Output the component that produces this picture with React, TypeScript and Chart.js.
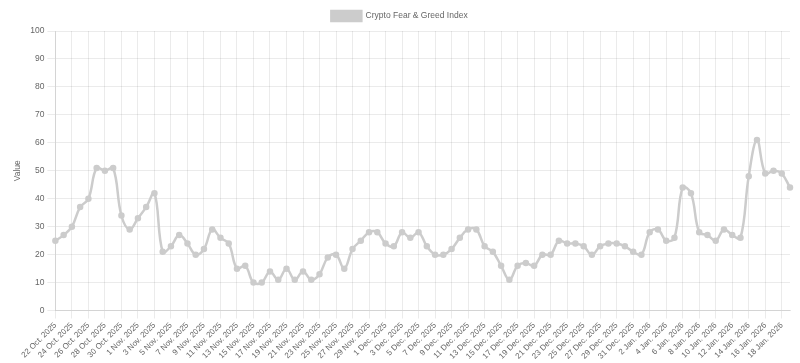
import React, { useEffect, useRef } from "react";
import { Chart, registerables } from "chart.js";

Chart.register(...registerables);

const octDays = [22, 23, 24, 25, 26, 27, 28, 29, 30, 31];
const octValues = [25, 27, 30, 37, 40, 51, 50, 51, 34, 29];
const novValues = [33, 37, 42, 21, 23, 27, 24, 20, 22, 29, 26, 24, 15, 16, 10, 10, 14, 11, 15, 11, 14, 11, 13, 19, 20, 15, 22, 25, 28, 28];
const decValues = [24, 23, 28, 26, 28, 23, 20, 20, 22, 26, 29, 29, 23, 21, 16, 11, 16, 17, 16, 20, 20, 25, 24, 24, 23, 20, 23, 24, 24, 23, 21];
const janValues = [20, 28, 29, 25, 26, 44, 42, 28, 27, 25, 29, 27, 26, 48, 61, 49, 50, 49, 44];

const labels: string[] = [
  ...octDays.map((d) => `${d} Oct. 2025`),
  ...novValues.map((_, i) => `${i + 1} Nov. 2025`),
  ...decValues.map((_, i) => `${i + 1} Dec. 2025`),
  ...janValues.map((_, i) => `${i + 1} Jan. 2026`),
];
const values: number[] = [...octValues, ...novValues, ...decValues, ...janValues];

const lineColor = "rgb(204, 204, 204)";
const fontSize = 8.5;

export default function App() {
  const ref = useRef<HTMLCanvasElement | null>(null);
  useEffect(() => {
    document.body.style.margin = "0";
    if (!ref.current) return;
    Chart.defaults.font.size = fontSize;
    const chart = new Chart(ref.current, {
      type: "line",
      data: {
        labels,
        datasets: [
          {
            label: "Crypto Fear & Greed Index",
            data: values,
            borderColor: lineColor,
            backgroundColor: lineColor,
            borderWidth: 2.5,
            pointRadius: 2,
            pointBackgroundColor: lineColor,
            pointBorderColor: lineColor,
            tension: 0.4,
            fill: false,
          },
        ],
      },
      options: {
        animation: false,
        responsive: false,
        layout: { padding: { left: 9, right: 10, top: 1, bottom: 0 } },
        plugins: {
          legend: {
            labels: { boxWidth: 30, boxHeight: 10, color: "#666", font: { size: fontSize } },
          },
          tooltip: { enabled: false },
        },
        scales: {
          x: {
            ticks: {
              color: "#666",
              maxRotation: 45,
              minRotation: 45,
              autoSkip: false,
              padding: 2,
              font: { size: 8 },
              callback: (_v: any, i: number) => (i % 2 === 0 ? labels[i] : null),
            },
            grid: { color: "rgba(0,0,0,0.08)" },
          },
          y: {
            min: 0,
            max: 100,
            ticks: { stepSize: 10, color: "#666", font: { size: fontSize } },
            grid: { color: "rgba(0,0,0,0.08)" },
            title: { display: true, text: "Value", color: "#666", font: { size: fontSize } },
          },
        },
      },
    });
    return () => chart.destroy();
  }, []);
  return (
    <div style={{ width: 800, height: 363 }}>
      <canvas ref={ref} width={800} height={363} />
    </div>
  );
}
